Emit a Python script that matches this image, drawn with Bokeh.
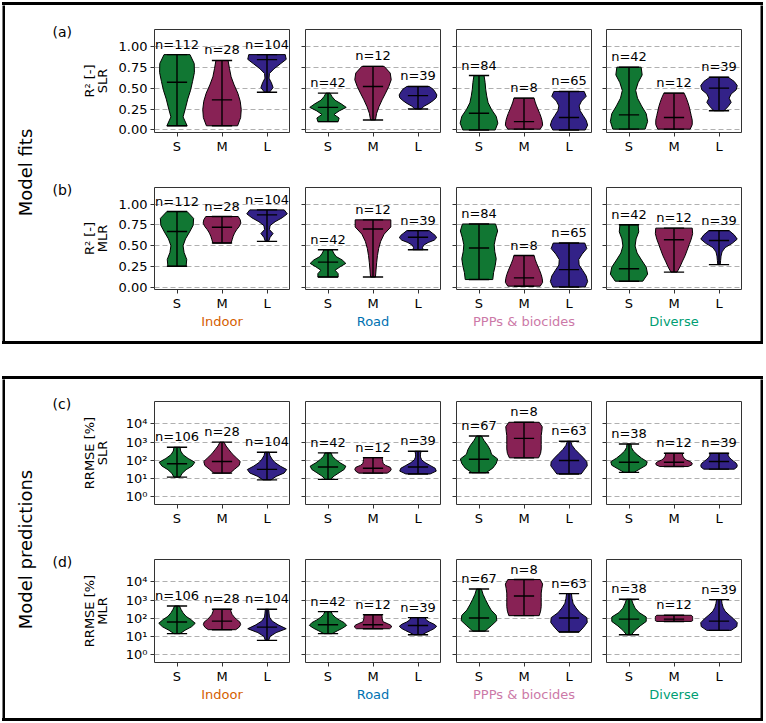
import numpy as np
from bokeh.plotting import figure
from bokeh.layouts import row, column
from bokeh.models import Range1d, FixedTicker, Spacer, ColumnDataSource, LabelSet
from bokeh.core.properties import value
from bokeh.embed import file_html
from bokeh.resources import INLINE

# ---------------- data ----------------
groups = ["Indoor", "Road", "PPPs & biocides", "Diverse"]
group_colors = ["#D55E00", "#0072B2", "#CC79A7", "#009E73"]
sizes = ["S", "M", "L"]
size_colors = ["#117733", "#882255", "#332288"]
panel_letters = ["(a)", "(b)", "(c)", "(d)"]
metric_labels = [("R² [-]", "SLR"), ("R² [-]", "MLR"), ("RRMSE [%]", "SLR"), ("RRMSE [%]", "MLR")]
block_titles = ["Model fits", "Model predictions"]
r2_ticks = [0.0, 0.25, 0.5, 0.75, 1.0]
r2_tick_labels = ["0.00", "0.25", "0.50", "0.75", "1.00"]
rrmse_ticks = [1, 10, 100, 1000, 10000]
rrmse_tick_labels = ["10⁰", "10¹", "10²", "10³", "10⁴"]

fit_n = [[112, 28, 104], [42, 12, 39], [84, 8, 65], [42, 12, 39]]
pred_n = [[106, 28, 104], [42, 12, 39], [67, 8, 63], [38, 12, 39]]

# (a) R2 SLR : per group [S, M, L]
a_min = [[0.05, 0.05, 0.45], [0.10, 0.12, 0.25], [0.00, 0.01, 0.00], [0.01, 0.01, 0.23]]
a_max = [[0.90, 0.83, 0.90], [0.44, 0.76, 0.52], [0.65, 0.38, 0.46], [0.75, 0.44, 0.63]]
a_med = [[0.57, 0.36, 0.84], [0.27, 0.52, 0.41], [0.20, 0.10, 0.15], [0.18, 0.15, 0.50]]
# relative violin widths, bottom (min) to top (max)
a_shape = [
    [[0.5, 0.3, 0.42, 0.53, 0.67, 0.77, 0.86, 0.85, 0.64],
     [0.77, 0.92, 0.95, 0.9, 0.78, 0.6, 0.45, 0.37, 0.3],
     [0.12, 0.3, 0.22, 0.1, 0.12, 0.35, 0.65, 0.95, 0.9]],
    [[0.5, 0.55, 0.3, 0.55, 0.9, 0.65, 0.35, 0.2, 0.1],
     [0.12, 0.18, 0.3, 0.45, 0.62, 0.78, 0.9, 0.85, 0.55],
     [0.15, 0.3, 0.55, 0.75, 0.9, 0.93, 0.85, 0.75, 0.55]],
    [[0.8, 0.93, 0.85, 0.62, 0.45, 0.38, 0.33, 0.3, 0.25],
     [0.8, 0.92, 0.9, 0.85, 0.78, 0.7, 0.62, 0.55, 0.5],
     [0.8, 0.92, 0.85, 0.7, 0.55, 0.5, 0.62, 0.85, 0.75]],
    [[0.8, 0.92, 0.85, 0.62, 0.42, 0.33, 0.45, 0.65, 0.6],
     [0.8, 0.9, 0.9, 0.85, 0.8, 0.75, 0.68, 0.6, 0.5],
     [0.25, 0.45, 0.6, 0.5, 0.6, 0.85, 0.9, 0.75, 0.45]],
]

# (b) R2 MLR
b_min = [[0.25, 0.53, 0.55], [0.12, 0.12, 0.45], [0.09, 0.01, 0.00], [0.07, 0.18, 0.27]]
b_max = [[0.91, 0.85, 0.93], [0.45, 0.81, 0.68], [0.76, 0.38, 0.53], [0.75, 0.71, 0.68]]
b_med = [[0.67, 0.72, 0.87], [0.30, 0.70, 0.60], [0.47, 0.11, 0.21], [0.22, 0.57, 0.56]]
b_shape = [
    [[0.45, 0.48, 0.35, 0.3, 0.42, 0.62, 0.8, 0.82, 0.5],
     [0.45, 0.5, 0.55, 0.62, 0.72, 0.85, 0.93, 0.9, 0.8],
     [0.08, 0.15, 0.3, 0.12, 0.15, 0.4, 0.75, 1.0, 0.85]],
    [[0.5, 0.5, 0.35, 0.6, 0.88, 0.7, 0.4, 0.28, 0.2],
     [0.12, 0.15, 0.18, 0.22, 0.28, 0.38, 0.55, 0.88, 0.88],
     [0.25, 0.22, 0.3, 0.5, 0.8, 0.92, 0.85, 0.7, 0.55]],
    [[0.68, 0.72, 0.8, 0.85, 0.78, 0.75, 0.82, 0.92, 0.82],
     [0.8, 0.92, 0.9, 0.85, 0.78, 0.7, 0.62, 0.55, 0.5],
     [0.8, 0.92, 0.85, 0.68, 0.5, 0.48, 0.65, 0.88, 0.78]],
    [[0.68, 0.92, 0.85, 0.62, 0.4, 0.3, 0.35, 0.48, 0.45],
     [0.15, 0.3, 0.42, 0.55, 0.65, 0.75, 0.85, 0.92, 0.9],
     [0.06, 0.08, 0.1, 0.15, 0.3, 0.65, 0.9, 0.75, 0.5]],
]

# (c) RRMSE SLR [%]
c_min = [[12, 20, 8.5], [9.1, 20, 18], [21, 138, 18], [22, 46, 33]]
c_max = [[525, 1000, 280], [257, 141, 316], [2190, 12300, 1120], [795, 245, 245]]
c_med = [[65, 87, 32], [43, 37, 43], [115, 1620, 98], [79, 79, 87]]
c_shape = [
    [[0.15, 0.25, 0.45, 0.75, 0.88, 0.55, 0.3, 0.18, 0.15],
     [0.4, 0.62, 0.85, 0.9, 0.7, 0.5, 0.35, 0.2, 0.1],
     [0.2, 0.45, 0.85, 0.97, 0.65, 0.4, 0.25, 0.15, 0.1]],
    [[0.12, 0.3, 0.55, 0.8, 0.88, 0.6, 0.38, 0.22, 0.15],
     [0.7, 0.85, 0.9, 0.85, 0.62, 0.5, 0.48, 0.47, 0.45],
     [0.6, 0.9, 0.85, 0.6, 0.35, 0.18, 0.12, 0.12, 0.15]],
    [[0.35, 0.68, 0.85, 0.92, 0.62, 0.55, 0.42, 0.25, 0.12],
     [0.72, 0.82, 0.85, 0.85, 0.85, 0.85, 0.88, 0.9, 0.75],
     [0.6, 0.75, 0.9, 0.88, 0.7, 0.5, 0.3, 0.15, 0.08]],
    [[0.25, 0.55, 0.85, 0.9, 0.62, 0.4, 0.22, 0.12, 0.1],
     [0.7, 0.88, 0.9, 0.8, 0.6, 0.5, 0.45, 0.42, 0.42],
     [0.75, 0.88, 0.9, 0.85, 0.72, 0.6, 0.5, 0.45, 0.45]],
]

# (d) RRMSE MLR [%]
d_min = [[14.5, 24, 6.2], [14.5, 27, 12.6], [20, 141, 17.8], [12.6, 68, 22]]
d_max = [[479, 316, 316], [234, 158, 110], [4070, 13500, 2290], [1120, 148, 1070]]
d_med = [[63, 71, 33], [45, 45, 41], [105, 1700, 105], [91, 91, 71]]
d_shape = [
    [[0.15, 0.4, 0.72, 0.9, 0.7, 0.45, 0.3, 0.2, 0.12],
     [0.68, 0.85, 0.92, 0.88, 0.72, 0.6, 0.5, 0.45, 0.42],
     [0.08, 0.15, 0.45, 0.95, 0.55, 0.25, 0.12, 0.1, 0.08]],
    [[0.2, 0.45, 0.72, 0.92, 0.8, 0.55, 0.35, 0.22, 0.15],
     [0.82, 0.92, 0.88, 0.7, 0.5, 0.47, 0.45, 0.45, 0.42],
     [0.2, 0.4, 0.62, 0.82, 0.92, 0.78, 0.55, 0.4, 0.35]],
    [[0.3, 0.6, 0.88, 0.85, 0.6, 0.45, 0.32, 0.2, 0.12],
     [0.75, 0.82, 0.85, 0.85, 0.85, 0.85, 0.88, 0.92, 0.8],
     [0.5, 0.72, 0.9, 0.88, 0.55, 0.35, 0.2, 0.15, 0.12]],
    [[0.12, 0.3, 0.55, 0.85, 0.85, 0.5, 0.3, 0.2, 0.12],
     [0.85, 0.92, 0.92, 0.92, 0.92, 0.92, 0.92, 0.9, 0.85],
     [0.6, 0.88, 0.9, 0.72, 0.5, 0.3, 0.2, 0.15, 0.12]],
]

rows_data = [
    dict(mins=a_min, maxs=a_max, meds=a_med, ns=fit_n, shapes=a_shape, log=False),
    dict(mins=b_min, maxs=b_max, meds=b_med, ns=fit_n, shapes=b_shape, log=False),
    dict(mins=c_min, maxs=c_max, meds=c_med, ns=pred_n, shapes=c_shape, log=True),
    dict(mins=d_min, maxs=d_max, meds=d_med, ns=pred_n, shapes=d_shape, log=True),
]

# ---------------- styling / layout ----------------
FONT = "DejaVu Sans"
HALF = 0.45      # max half width of a violin (x units)
CAP = 0.225      # half width of caps and median bars
LIN_RANGE = (-0.03, 1.2)
LOG_RANGE = (0.38, 1.7e5)
COL_W = [183, 151, 150, 166]
COL_L = [44, 12, 12, 12]
COL_R = [4, 4, 3, 19]
ROW_H = [155, 181, 151, 188]
ROW_T = [24, 27, 22, 29]
ROW_B = [28, 52, 26, 56]
INNER_W = 755
DECO_W = 105
EDGE = "#333333"


def make_panel(r, c):
    d = rows_data[r]
    log = d["log"]
    yr = Range1d(*(LOG_RANGE if log else LIN_RANGE))
    p = figure(width=COL_W[c], height=ROW_H[r], x_range=Range1d(0.5, 3.5), y_range=yr,
               y_axis_type="log" if log else "linear", toolbar_location=None,
               title_location=None,
               output_backend="svg", min_border_left=COL_L[c], min_border_right=COL_R[c],
               min_border_top=ROW_T[r], min_border_bottom=ROW_B[r])
    p.outline_line_color = EDGE
    p.outline_line_width = 1
    p.background_fill_color = "white"
    p.border_fill_color = "white"

    xs, ys, fills = [], [], []
    sx0, sy0, sx1, sy1 = [], [], [], []
    lx, ly, lt = [], [], []
    for k in range(3):
        lo, hi, med = d["mins"][c][k], d["maxs"][c][k], d["meds"][c][k]
        w = np.array(d["shapes"][c][k])
        m = len(w)
        frac = np.arange(m) / (m - 1)
        if log:
            a, b = np.log10(lo), np.log10(hi)
            lev = 10 ** (a + (b - a) * frac)
        else:
            lev = lo + (hi - lo) * frac
        pos = k + 1
        half = w * HALF
        xs.append(list(pos - half) + list((pos + half)[::-1]))
        ys.append(list(lev) + list(lev[::-1]))
        fills.append(size_colors[k])
        sx0 += [pos, pos - CAP, pos - CAP, pos - CAP]
        sx1 += [pos, pos + CAP, pos + CAP, pos + CAP]
        sy0 += [lo, lo, hi, med]
        sy1 += [hi, lo, hi, med]
        lx.append(pos)
        ly.append(hi)
        lt.append("n=%d" % d["ns"][c][k])

    p.patches(xs, ys, fill_color=fills, fill_alpha=1.0, line_color="black", line_width=1)
    p.segment(sx0, sy0, sx1, sy1, line_color="black", line_width=1.4)
    src = ColumnDataSource(dict(x=lx, y=ly, t=lt))
    p.add_layout(LabelSet(x="x", y="y", text="t", source=src, text_align="center",
                          text_baseline="bottom", y_offset=3, text_font=value(FONT),
                          text_font_size="13px", text_color="black"))

    p.xaxis.ticker = FixedTicker(ticks=[1, 2, 3])
    p.xaxis.major_label_overrides = {i + 1: s for i, s in enumerate(sizes)}
    ticks = rrmse_ticks if log else r2_ticks
    tlabels = rrmse_tick_labels if log else r2_tick_labels
    p.yaxis.ticker = FixedTicker(ticks=ticks)
    p.ygrid.ticker = FixedTicker(ticks=ticks)
    if c == 0:
        p.yaxis.major_label_overrides = {t: s for t, s in zip(ticks, tlabels)}
        p.yaxis.major_label_standoff = 3
    else:
        p.yaxis.major_label_overrides = {t: "" for t in ticks}
        p.yaxis.major_label_standoff = 0
    for ax in (p.xaxis[0], p.yaxis[0]):
        ax.axis_line_color = None
        ax.major_tick_line_color = EDGE
        ax.major_tick_out = 4
        ax.major_tick_in = 0
        ax.minor_tick_line_color = None
        ax.major_label_text_font = FONT
        ax.major_label_text_font_size = "13px"
        ax.major_label_text_color = "black"
    p.xaxis.major_label_standoff = 2
    p.xgrid.visible = False
    p.ygrid.grid_line_color = "#b0b0b0"
    p.ygrid.grid_line_dash = "5 3"
    p.ygrid.grid_line_width = 1
    if r in (1, 3):
        p.xaxis.axis_label = groups[c]
        p.xaxis.axis_label_text_color = group_colors[c]
        p.xaxis.axis_label_text_font = FONT
        p.xaxis.axis_label_text_font_size = "13px"
        p.xaxis.axis_label_text_font_style = "normal"
        p.xaxis.axis_label_standoff = 0
    return p


def vbar(w, h):
    f = figure(width=w, height=h, x_range=Range1d(0, 1), y_range=Range1d(0, 1),
               x_axis_type=None, y_axis_type=None, toolbar_location=None,
               title_location=None, output_backend="svg", min_border=0)
    f.outline_line_color = None
    f.background_fill_color = "black"
    f.border_fill_color = "black"
    return f


def hbar(w, h):
    return Spacer(width=w, height=h, styles={"background-color": "black"})


def deco(b, y0, y1, rows_idx, title_y, letter_y, label_y):
    f = figure(width=DECO_W, height=y1 - y0, x_range=Range1d(5, 5 + DECO_W),
               y_range=Range1d(-y1, -y0), x_axis_type=None, y_axis_type=None,
               toolbar_location=None, title_location=None, output_backend="svg", min_border=0)
    f.outline_line_color = None
    f.background_fill_color = "white"
    f.border_fill_color = "white"
    f.text(x=[25], y=[-title_y], text=[block_titles[b]], angle=[np.pi / 2],
           text_align="center", text_baseline="middle", text_font=value(FONT),
           text_font_size="18px", text_color="black")
    f.text(x=[52, 52], y=[-v for v in letter_y], text=[panel_letters[i] for i in rows_idx],
           text_align="left", text_baseline="middle", text_font=value(FONT),
           text_font_size="14px", text_color="black")
    tx, ty, tt = [], [], []
    for i, yy in zip(rows_idx, label_y):
        tx += [89, 102]
        ty += [-yy, -yy]
        tt += list(metric_labels[i])
    f.text(x=tx, y=ty, text=tt, angle=[np.pi / 2] * len(tt), text_align="center",
           text_baseline="middle", text_font=value(FONT), text_font_size="13px",
           text_color="black")
    return f


def block(b, rows_idx, y0, title_y, letter_y, label_y):
    h = ROW_H[rows_idx[0]] + ROW_H[rows_idx[1]]
    grid = column(*[row(*[make_panel(r, c) for c in range(4)]) for r in rows_idx])
    inner = row(vbar(3, h), deco(b, y0, y0 + h, rows_idx, title_y, letter_y, label_y), grid, vbar(3, h))
    return column(hbar(INNER_W + 6, 3), inner, hbar(INNER_W + 6, 3))


blk1 = block(0, [0, 1], 5, 172, [31, 189.5], [80.5, 238])
blk2 = block(1, [2, 3], 379, 549, [403.5, 561], [452.5, 610.5])

page = column(Spacer(height=2), row(Spacer(width=2), blk1), Spacer(height=32),
              row(Spacer(width=2), blk2))

open("out.html", "w").write(file_html(page, INLINE))
